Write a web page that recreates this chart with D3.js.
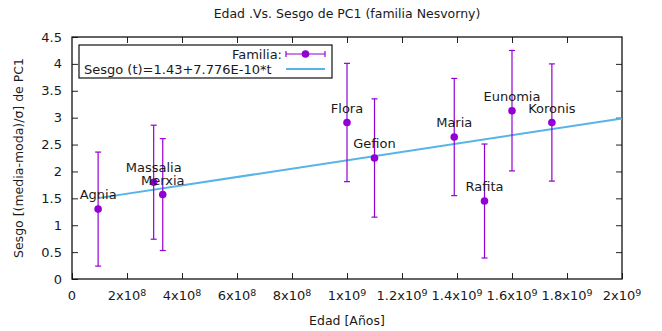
<!DOCTYPE html>
<html>
<head>
<meta charset="utf-8">
<script src="https://cdn.jsdelivr.net/npm/d3@7"></script>
<style>
  body { margin: 0; background: #fff; }
  text { font-family: "DejaVu Sans", sans-serif; fill: #1a1a1a; }
</style>
</head>
<body>
<svg id="graph" width="662" height="331"></svg>
<script>
// families (age in years, skewness, error)
const families = ["Agnia", "Massalia", "Merxia", "Flora", "Gefion", "Maria", "Rafita", "Eunomia", "Koronis"];
const ages = [0.95e8, 2.97e8, 3.3e8, 1.0e9, 1.1e9, 1.39e9, 1.5e9, 1.6e9, 1.745e9];
const skews = [1.30, 1.80, 1.57, 2.91, 2.25, 2.64, 1.45, 3.13, 2.91];
const errs = [1.06, 1.06, 1.04, 1.10, 1.10, 1.09, 1.06, 1.12, 1.09];

// fit line: 1.43 + 7.776e-10 * t
const fitA = 1.43;
const fitB = 7.776e-10;
const fitRange = [0.95e8, 2e9];

const xTicks = [0, 2e8, 4e8, 6e8, 8e8, 1e9, 1.2e9, 1.4e9, 1.6e9, 1.8e9, 2e9];
const yTicks = [0, 0.5, 1, 1.5, 2, 2.5, 3, 3.5, 4, 4.5];

const violet = "#9400d3";
const blue = "#56b4e9";

let svg = d3.select("#graph");
let pLeft = 72, pRight = 622, pTop = 37, pBottom = 279;

let x = d3.scaleLinear().domain([0, 2e9]).range([pLeft, pRight]);
let y = d3.scaleLinear().domain([0, 4.5]).range([pBottom, pTop]);

// ticks, inside on all four sides
let tickLen = 6;
svg.append("g").attr("transform", "translate(0," + pBottom + ")")
  .call(d3.axisBottom(x).tickValues(xTicks).tickSize(-tickLen).tickFormat(""))
  .call(g => g.select(".domain").remove());
svg.append("g").attr("transform", "translate(0," + pTop + ")")
  .call(d3.axisTop(x).tickValues(xTicks.slice(1, -1)).tickSize(-tickLen).tickFormat(""))
  .call(g => g.select(".domain").remove());
svg.append("g").attr("transform", "translate(" + pLeft + ",0)")
  .call(d3.axisLeft(y).tickValues(yTicks).tickSize(-tickLen).tickFormat(""))
  .call(g => g.select(".domain").remove());
svg.append("g").attr("transform", "translate(" + pRight + ",0)")
  .call(d3.axisRight(y).tickValues(yTicks.slice(1, -1)).tickSize(-tickLen).tickFormat(""))
  .call(g => g.select(".domain").remove());
svg.selectAll(".tick line").attr("stroke", "#222");

// y tick labels
svg.selectAll()
  .data(yTicks)
  .enter()
  .append("text")
  .attr("x", pLeft - 10)
  .attr("y", d => y(d))
  .attr("dy", "0.35em")
  .attr("text-anchor", "end")
  .style("font-size", "13px")
  .text(d => d);

// x tick labels like 1.2x10^9
let xLab = svg.selectAll()
  .data(xTicks)
  .enter()
  .append("text")
  .attr("x", d => x(d))
  .attr("y", pBottom + 21)
  .attr("text-anchor", "middle")
  .style("font-size", "13px");
xLab.each(function(d) {
  let t = d3.select(this);
  if (d == 0) { t.text("0"); return; }
  let e = Math.floor(Math.log10(d));
  let m = +(d / Math.pow(10, e)).toFixed(1);
  t.append("tspan").text(m + "x10");
  t.append("tspan").attr("dy", "-0.45em").style("font-size", "9.5px").text(e);
});

// border
svg.append("rect")
  .attr("x", pLeft).attr("y", pTop)
  .attr("width", pRight - pLeft).attr("height", pBottom - pTop)
  .attr("fill", "none").attr("stroke", "#111").attr("stroke-width", 1.3);

// title & axis labels
svg.append("text").attr("x", 347).attr("y", 18).attr("text-anchor", "middle")
  .style("font-size", "12.5px").text("Edad .Vs. Sesgo de PC1 (familia Nesvorny)");
svg.append("text").attr("x", 347).attr("y", 325).attr("text-anchor", "middle")
  .style("font-size", "12.5px").text("Edad [Años]");
svg.append("text").attr("transform", "translate(23,158) rotate(-90)").attr("text-anchor", "middle")
  .style("font-size", "12.5px").text("Sesgo [(media-moda)/σ] de PC1");

// fit line
let fitPts = fitRange.map(t => [x(t), y(fitA + fitB * t)]);
svg.append("path")
  .attr("d", d3.line()(fitPts))
  .attr("stroke", blue).attr("stroke-width", 2).attr("fill", "none");

// error bars
let idx = d3.range(families.length);
let cap = 3;
let bars = svg.append("g").attr("stroke", violet).attr("stroke-width", 1.2);
bars.selectAll().data(idx).enter().append("line")
  .attr("x1", i => x(ages[i])).attr("x2", i => x(ages[i]))
  .attr("y1", i => y(skews[i] - errs[i])).attr("y2", i => y(skews[i] + errs[i]));
bars.selectAll().data(idx).enter().append("line")
  .attr("x1", i => x(ages[i]) - cap).attr("x2", i => x(ages[i]) + cap)
  .attr("y1", i => y(skews[i] + errs[i])).attr("y2", i => y(skews[i] + errs[i]));
bars.selectAll().data(idx).enter().append("line")
  .attr("x1", i => x(ages[i]) - cap).attr("x2", i => x(ages[i]) + cap)
  .attr("y1", i => y(skews[i] - errs[i])).attr("y2", i => y(skews[i] - errs[i]));

svg.selectAll().data(idx).enter().append("circle")
  .attr("cx", i => x(ages[i])).attr("cy", i => y(skews[i]))
  .attr("r", 3.8).attr("fill", violet);

// family labels
svg.selectAll().data(idx).enter().append("text")
  .attr("x", i => x(ages[i]))
  .attr("y", i => y(skews[i]) - 10)
  .attr("text-anchor", "middle")
  .style("font-size", "13px")
  .text(i => families[i]);

// legend
svg.append("rect").attr("x", 79).attr("y", 45).attr("width", 253).attr("height", 33)
  .attr("fill", "#fff").attr("stroke", "#111").attr("stroke-width", 1.2);
svg.append("text").attr("x", 282).attr("y", 54).attr("dy", "0.35em").attr("text-anchor", "end")
  .style("font-size", "13px").text("Familia:");
svg.append("text").attr("x", 84).attr("y", 69).attr("dy", "0.35em")
  .style("font-size", "13px").text("Sesgo (t)=1.43+7.776E-10*t");
let lg = svg.append("g").attr("stroke", violet).attr("stroke-width", 1.2);
lg.append("line").attr("x1", 286).attr("x2", 325).attr("y1", 54).attr("y2", 54);
lg.append("line").attr("x1", 286).attr("x2", 286).attr("y1", 51).attr("y2", 57);
lg.append("line").attr("x1", 325).attr("x2", 325).attr("y1", 51).attr("y2", 57);
svg.append("circle").attr("cx", 305.5).attr("cy", 54).attr("r", 3.8).attr("fill", violet);
svg.append("line").attr("x1", 286).attr("x2", 325).attr("y1", 69).attr("y2", 69)
  .attr("stroke", blue).attr("stroke-width", 2);
</script>
</body>
</html>
